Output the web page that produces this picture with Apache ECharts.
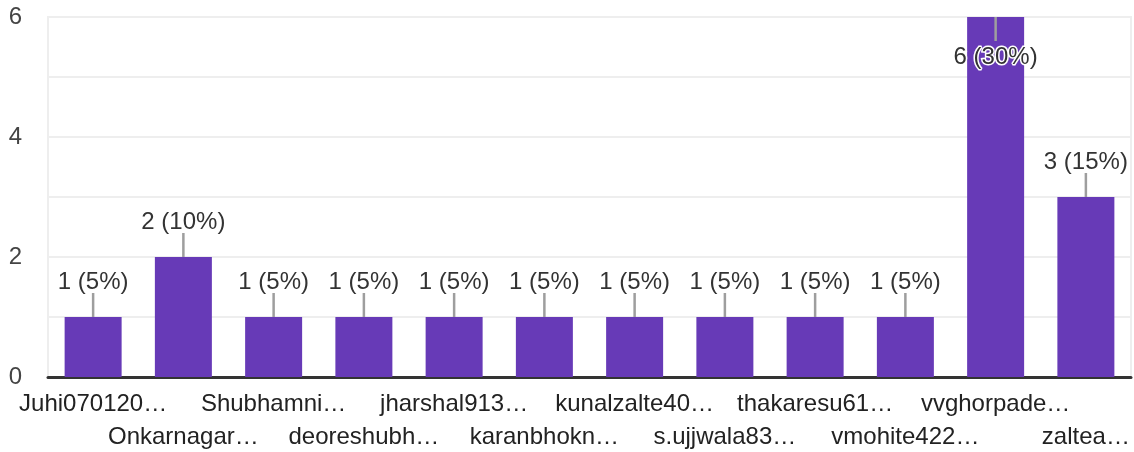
<!DOCTYPE html>
<html>
<head>
<meta charset="utf-8">
<script src="https://cdn.jsdelivr.net/npm/echarts@6/dist/echarts.min.js"></script>
<style>
  html, body { margin: 0; padding: 0; background: #fff; }
  #chart { width: 1134px; height: 452px; }
</style>
</head>
<body>
<div id="chart"></div>
<script>
// Respondent names (already shortened) and their response counts
const categories = [
  'Juhi070120…', 'Onkarnagar…', 'Shubhamni…', 'deoreshubh…',
  'jharshal913…', 'karanbhokn…', 'kunalzalte40…', 's.ujjwala83…',
  'thakaresu61…', 'vmohite422…', 'vvghorpade…', 'zaltea…'
];
const counts = [1, 2, 1, 1, 1, 1, 1, 1, 1, 1, 6, 3];
const yTicks = [0, 2, 4, 6];

const total = counts.reduce((a, b) => a + b, 0);
const FONT = '"Liberation Sans", Arial, sans-serif';
const FONT_SIZE = 24;

function labelText(i) {
  const pct = Math.round(counts[i] / total * 100);
  return counts[i] + ' (' + pct + '%)';
}

const chart = echarts.init(document.getElementById('chart'), null, { renderer: 'canvas' });

chart.setOption({
  animation: false,
  backgroundColor: '#ffffff',
  grid: {
    left: 48, right: 3, top: 17, bottom: 75,
    outerBoundsMode: 'none',
    containLabel: false,
    show: true, borderColor: '#eeeeee', borderWidth: 2, backgroundColor: 'transparent'
  },
  xAxis: {
    type: 'category',
    data: categories,
    axisLine: { show: true, lineStyle: { color: '#333333', width: 3 } },
    axisTick: { show: false },
    axisLabel: {
      interval: 0,
      margin: 11,
      color: '#222222',
      fontFamily: FONT,
      fontSize: FONT_SIZE,
      lineHeight: 33,
      formatter: (v, i) => (i % 2 ? '\n' + v : v)
    },
    splitLine: { show: false }
  },
  yAxis: {
    type: 'value',
    min: 0, max: 6, interval: 1,
    axisLine: { show: false },
    axisTick: { show: false },
    axisLabel: {
      margin: 26,
      padding: [6, 0, 0, 0],
      color: '#444444',
      fontFamily: FONT,
      fontSize: FONT_SIZE,
      formatter: v => (yTicks.indexOf(v) >= 0 ? String(v) : '')
    },
    splitLine: { show: true, lineStyle: { color: '#eeeeee', width: 2 } }
  },
  series: [
    {
      type: 'bar',
      data: counts,
      barWidth: 57,
      itemStyle: { color: '#673ab7' },
      z: 2
    },
    {
      // value labels with a short leader line to the top of each bar
      type: 'custom',
      data: counts.map((v, i) => [i, v]),
      z: 5,
      renderItem(params, api) {
        const p = api.coord([api.value(0), api.value(1)]);
        const roomAbove = p[1] - 48 >= params.coordSys.y;
        const dir = roomAbove ? -1 : 1;
        const textOffset = roomAbove ? 35 : 40;
        return {
          type: 'group',
          children: [
            {
              type: 'line',
              shape: { x1: p[0], y1: p[1], x2: p[0], y2: p[1] + dir * 24 },
              style: { stroke: '#9e9e9e', lineWidth: 2.5 }
            },
            {
              type: 'text',
              x: p[0],
              y: p[1] + dir * textOffset,
              style: {
                text: labelText(params.dataIndex),
                fill: '#333333',
                font: FONT_SIZE + 'px ' + FONT,
                align: 'center',
                verticalAlign: 'middle',
                stroke: roomAbove ? null : '#ffffff',
                lineWidth: roomAbove ? 0 : 3
              }
            }
          ]
        };
      }
    }
  ]
});
</script>
</body>
</html>
